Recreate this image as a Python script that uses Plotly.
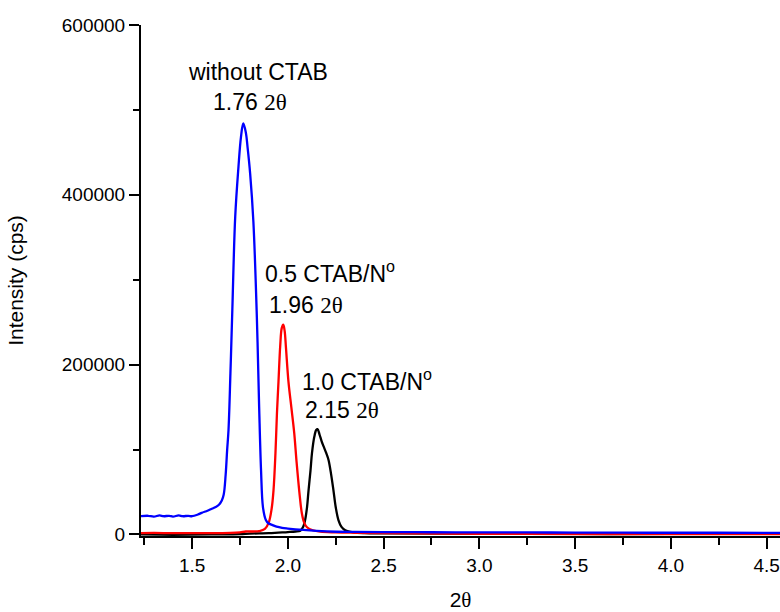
import plotly.graph_objects as go

# ---- data ----
blue_x = [1.233, 1.27, 1.30, 1.33, 1.35, 1.38, 1.40, 1.43, 1.45, 1.48, 1.50, 1.53, 1.55, 1.58, 1.60, 1.62,
          1.64, 1.655, 1.665, 1.675, 1.683, 1.69, 1.70, 1.71, 1.725, 1.742, 1.755, 1.767, 1.78, 1.79,
          1.803, 1.82, 1.838, 1.85, 1.86, 1.87, 1.885, 1.898, 1.92, 1.941, 1.97, 2.0, 2.08, 2.15,
          2.255, 2.35, 2.5, 2.75, 3.0, 3.25, 3.5, 3.75, 4.0, 4.25, 4.57]
blue_y = [21500, 22000, 21000, 22500, 21500, 22000, 21000, 22500, 21500, 22000, 21500, 23500, 25500, 28000, 30000, 32000,
          35000, 40000, 47000, 70000, 100000, 123000, 190000, 265000, 374000, 433000, 468000, 484000, 474000, 455000,
          425000, 368000, 256000, 150000, 75000, 32000, 17000, 13200, 11000, 9200, 7800, 7000, 5300, 4200,
          3200, 3000, 2800, 2600, 2500, 2400, 2200, 2100, 2000, 2000, 1900]

red_x = [1.233, 1.30, 1.40, 1.50, 1.60, 1.70, 1.75, 1.78, 1.82, 1.85, 1.88, 1.90, 1.915, 1.925, 1.935,
         1.943, 1.951, 1.96, 1.968, 1.976, 1.983, 1.99, 2.003, 2.018, 2.033, 2.046, 2.06, 2.073, 2.085,
         2.10, 2.13, 2.17, 2.25, 2.35, 2.5, 3.0, 3.5, 4.0, 4.57]
red_y = [1500, 1800, 1500, 1700, 1500, 1800, 2500, 3500, 3500, 4000, 6500, 14000, 30000, 52000, 95000,
         143000, 180000, 222000, 243000, 247000, 240000, 220000, 180000, 150000, 120000, 84000, 50000, 25000, 14000,
         8500, 5000, 3300, 2500, 2000, 1500, 800, 500, 300, 300]

black_x = [1.233, 1.40, 1.60, 1.75, 1.80, 1.90, 1.95, 2.0, 2.04, 2.065, 2.08, 2.09, 2.10, 2.108, 2.118,
           2.126, 2.138, 2.148, 2.155, 2.165, 2.176, 2.186, 2.20, 2.212, 2.225, 2.238, 2.25, 2.264, 2.28,
           2.30, 2.343, 2.40, 2.5, 3.0, 3.5, 4.0, 4.2, 4.57]
black_y = [0, -300, 0, 300, 1000, 1500, 2200, 2800, 3500, 4500, 9000, 17000, 32000, 52000, 75000,
           96000, 115000, 123000, 124000, 118000, 110000, 104000, 96000, 88000, 72000, 52000, 32000, 17000, 9000,
           5000, 2500, 1500, 1200, 800, 600, 600, 1000, 800]

x_ticks = [1.5, 2.0, 2.5, 3.0, 3.5, 4.0, 4.5]
x_tick_text = ["1.5", "2.0", "2.5", "3.0", "3.5", "4.0", "4.5"]
y_ticks = [0, 200000, 400000, 600000]
y_tick_text = ["0", "200000", "400000", "600000"]

SANS = "Arial, Liberation Sans, sans-serif"
SERIF = "Liberation Serif, Times New Roman, serif"
theta = f"<span style='font-family:{SERIF}'>2θ</span>"

fig = go.Figure()
fig.add_trace(go.Scatter(x=black_x, y=black_y, mode="lines", line=dict(color="black", width=2.3), line_shape="spline"))
fig.add_trace(go.Scatter(x=red_x, y=red_y, mode="lines", line=dict(color="#ff0000", width=2.3), line_shape="spline"))
fig.add_trace(go.Scatter(x=blue_x, y=blue_y, mode="lines", line=dict(color="#0000ff", width=2.3), line_shape="spline"))

ann_font = dict(family=SANS, size=23, color="black")
annotations = [
    dict(x=1.844, y=544600, text="without CTAB", xanchor="center"),
    dict(x=1.802, y=509300, text="1.76 " + theta, xanchor="center"),
    dict(x=1.868, y=309100, text="0.5 CTAB/N<sup>o</sup>", xanchor="left"),
    dict(x=1.889, y=270300, text="1.96 " + theta, xanchor="left"),
    dict(x=2.063, y=181900, text="1.0 CTAB/N<sup>o</sup>", xanchor="left"),
    dict(x=2.077, y=146600, text="2.15 " + theta, xanchor="left"),
]
for a in annotations:
    fig.add_annotation(xref="x", yref="y", yanchor="middle", showarrow=False, font=ann_font, **a)

fig.update_layout(
    width=780, height=612,
    margin=dict(l=141, r=0, t=25, b=76),
    paper_bgcolor="white", plot_bgcolor="white",
    showlegend=False,
    font=dict(family=SANS, color="black"),
)
fig.update_xaxes(
    range=[1.233, 4.57], showgrid=False, zeroline=False,
    showline=True, linecolor="black", linewidth=2,
    tickmode="array", tickvals=x_ticks, ticktext=x_tick_text,
    ticks="outside", ticklen=11, tickwidth=2, tickcolor="black",
    tickfont=dict(family=SANS, size=19),
    minor=dict(ticks="outside", dtick=0.25, tick0=0, ticklen=7, tickwidth=2, tickcolor="black"),
    title=dict(text="2<span style='font-family:" + SERIF + "'>θ</span>", font=dict(family=SANS, size=21), standoff=22),
)
fig.update_yaxes(
    range=[-1800, 600000], showgrid=False, zeroline=False,
    showline=True, linecolor="black", linewidth=2,
    tickmode="array", tickvals=y_ticks, ticktext=y_tick_text,
    ticks="outside", ticklen=10, tickwidth=2, tickcolor="black",
    tickfont=dict(family=SANS, size=19),
    minor=dict(ticks="outside", dtick=100000, tick0=0, ticklen=6, tickwidth=2, tickcolor="black"),
    title=dict(text="Intensity (cps)", font=dict(family=SANS, size=21), standoff=32),
)

fig.write_html("out.html")
